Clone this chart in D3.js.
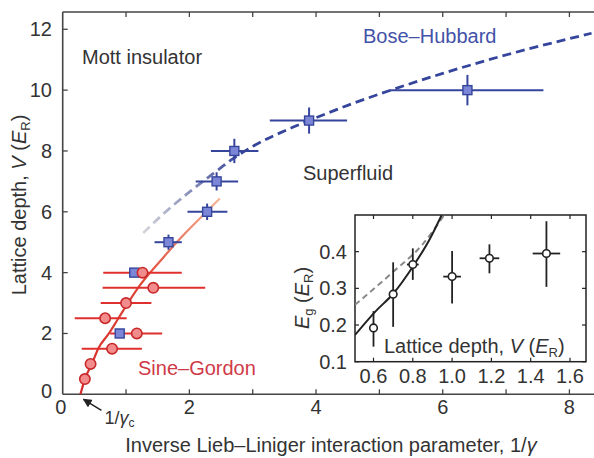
<!DOCTYPE html>
<html><head><meta charset="utf-8">
<script src="https://cdn.jsdelivr.net/npm/d3@7"></script>
<style>
html,body{margin:0;padding:0;background:#fff;}
svg{display:block;font-family:"Liberation Sans",Arial,sans-serif;}
</style></head>
<body><svg id="c" width="594" height="458"></svg>
<script>
// ---- main panel data ----
const xTicks = [0,2,4,6,8];
const yTicks = [0,2,4,6,8,10,12];
// Sine-Gordon (red circles)
const sgV   = [0.5, 1.0, 1.5, 2.0, 2.5, 3.0, 3.5, 4.0];
const sgX   = [0.35,0.44,0.78,1.17,0.67,1.00,1.43,1.26];
const sgXlo = [0.35,0.44,0.30,0.75,0.19,0.60,0.63,0.64];
const sgXhi = [0.35,0.44,1.25,1.57,1.01,1.40,2.25,1.88];
// Bose-Hubbard (blue squares)
const bhV    = [2, 4, 5, 6, 7, 8, 9, 10];
const bhX    = [0.90,1.13,1.67,2.28,2.43,2.71,3.89,6.39];
const bhXlo  = [0.90,1.13,1.45,1.97,2.10,2.34,3.27,5.17];
const bhXhi  = [0.90,1.13,1.88,2.60,2.77,3.09,4.49,7.59];
const bhVerr = [0,0,0.25,0.27,0.30,0.40,0.43,0.50];
// theory curves
const sgCurveX = [0.28,0.35,0.46,0.56,0.73,0.88,1.03,1.19,1.38,1.59,1.80,2.03,2.27,2.48];
const sgCurveV = [0.0, 0.5, 1.0, 1.5, 2.0, 2.5, 3.0, 3.5, 4.0, 4.5, 5.0, 5.5, 6.0, 6.44];
const bhCurveX = [1.27,1.60,2.00,2.38,2.69,3.00,3.59,3.89,4.50,5.00,6.00,6.90,8.35];
const bhCurveV = [5.30,5.95,6.65,7.26,7.75,8.15,8.74,9.00,9.50,9.87,10.55,11.10,11.87];
const gammaC = 0.28;

// ---- inset data ----
const inXTicks = [0.6,0.8,1.0,1.2,1.4,1.6];
const inYTicks = [0.1,0.2,0.3,0.4];
const gapV    = [0.60,0.70,0.80,1.00,1.19,1.48];
const gapE    = [0.192,0.284,0.365,0.332,0.382,0.395];
const gapElo  = [0.141,0.195,0.323,0.259,0.341,0.304];
const gapEhi  = [0.238,0.371,0.409,0.402,0.420,0.483];
const gapVerr = [0,0.02,0.03,0.045,0.05,0.07];
const sgGapV = [0.506,0.608,0.701,0.800,0.888,0.947];
const sgGapE = [0.173,0.236,0.286,0.359,0.436,0.500];
const dGapV  = [0.506,0.700,0.850,0.960];
const dGapE  = [0.255,0.345,0.420,0.500];

const svg = d3.select('#c');
const FS = 20;
const axisCol = '#444';
const red = '#d8302c', redFill = '#f28c8c';
const blue = '#36459c', blueFill = '#7b87d6';

// scales
const x = d3.scaleLinear().domain([0,8]).range([62.7,569.4]);
const y = d3.scaleLinear().domain([0,12]).range([394.3,29.3]);
const topY = 12, rightX = 600;

// gradients
const defs = svg.append('defs');
const g1 = defs.append('linearGradient').attr('id','sgGrad').attr('gradientUnits','userSpaceOnUse')
  .attr('x1',x(0.28)).attr('y1',y(0)).attr('x2',x(2.48)).attr('y2',y(6.44));
g1.append('stop').attr('offset','0').attr('stop-color','#d42a2a');
g1.append('stop').attr('offset','0.55').attr('stop-color','#e04a3a');
g1.append('stop').attr('offset','1').attr('stop-color','#f6b496');
const g2 = defs.append('linearGradient').attr('id','bhGrad').attr('gradientUnits','userSpaceOnUse')
  .attr('x1',x(1.27)).attr('y1',y(5.3)).attr('x2',x(2.8)).attr('y2',y(7.9));
g2.append('stop').attr('offset','0').attr('stop-color','#d8d8dc');
g2.append('stop').attr('offset','0.5').attr('stop-color','#8890b8');
g2.append('stop').attr('offset','1').attr('stop-color',blue);

// frame
svg.append('line').attr('x1',x(0)).attr('x2',x(0)).attr('y1',topY).attr('y2',y(0)).attr('stroke',axisCol).attr('stroke-width',1.6);
svg.append('line').attr('x1',x(0)).attr('x2',rightX).attr('y1',topY).attr('y2',topY).attr('stroke',axisCol).attr('stroke-width',1.6);
svg.append('line').attr('x1',x(0)).attr('x2',rightX).attr('y1',y(0)).attr('y2',y(0)).attr('stroke',axisCol).attr('stroke-width',1.6);

// ticks
const minorX = d3.range(1,9);
svg.append('g').selectAll('line.tb').data(minorX).join('line')
  .attr('x1',d=>x(d)).attr('x2',d=>x(d)).attr('y1',y(0)).attr('y2',y(0)-5).attr('stroke',axisCol).attr('stroke-width',1.3);
svg.append('g').selectAll('line.tt').data(minorX).join('line')
  .attr('x1',d=>x(d)).attr('x2',d=>x(d)).attr('y1',topY).attr('y2',topY+5).attr('stroke',axisCol).attr('stroke-width',1.3);
svg.append('g').selectAll('line.tl').data(yTicks.filter(d=>d>0)).join('line')
  .attr('x1',x(0)).attr('x2',x(0)+5).attr('y1',d=>y(d)).attr('y2',d=>y(d)).attr('stroke',axisCol).attr('stroke-width',1.3);

// tick labels
svg.append('g').selectAll('text').data(xTicks).join('text')
  .attr('x',d=>x(d)-(d===0?2:0)).attr('y',414).attr('text-anchor','middle')
  .attr('font-size',FS).attr('fill','#333').text(d=>d);
svg.append('g').selectAll('text').data(yTicks).join('text')
  .attr('x',52).attr('y',d=>y(d)-(d===0?3:0)).attr('dy','0.35em').attr('text-anchor','end')
  .attr('font-size',FS).attr('fill','#333').text(d=>d);

// axis titles
svg.append('text').attr('x',331).attr('y',452).attr('text-anchor','middle').attr('font-size',FS).attr('fill','#333')
  .html('Inverse Lieb–Liniger interaction parameter, 1/<tspan font-style="italic">γ</tspan>');
svg.append('text').attr('transform','translate(26,205) rotate(-90)').attr('text-anchor','middle').attr('font-size',FS).attr('fill','#333')
  .html('Lattice depth, <tspan font-style="italic">V</tspan> (<tspan font-style="italic">E</tspan><tspan font-size="13" dy="4">R</tspan><tspan dy="-4">)</tspan>');

// curves
const line = d3.line().curve(d3.curveMonotoneX);
const sgPts = sgCurveX.map((d,i)=>[x(d),y(sgCurveV[i])]);
svg.append('path').attr('d',line(sgPts)).attr('fill','none').attr('stroke','url(#sgGrad)').attr('stroke-width',2.2);
const bhPts = bhCurveX.map((d,i)=>[x(d),y(bhCurveV[i])]);
svg.append('path').attr('d',line(bhPts)).attr('fill','none').attr('stroke','url(#bhGrad)').attr('stroke-width',2.8).attr('stroke-dasharray','9,5');

// red error bars
sgV.forEach((v,i)=>{
  if (sgXhi[i]>sgXlo[i]) svg.append('line').attr('x1',x(sgXlo[i])).attr('x2',x(sgXhi[i])).attr('y1',y(v)).attr('y2',y(v)).attr('stroke','#e0302e').attr('stroke-width',2);
});
// blue error bars
bhV.forEach((v,i)=>{
  if (bhXhi[i]>bhXlo[i]) svg.append('line').attr('x1',x(bhXlo[i])).attr('x2',x(bhXhi[i])).attr('y1',y(v)).attr('y2',y(v)).attr('stroke',blue).attr('stroke-width',2);
  if (bhVerr[i]>0) svg.append('line').attr('x1',x(bhX[i])).attr('x2',x(bhX[i])).attr('y1',y(v-bhVerr[i])).attr('y2',y(v+bhVerr[i])).attr('stroke',blue).attr('stroke-width',2);
});
// blue squares
svg.append('g').selectAll('rect').data(bhV).join('rect')
  .attr('x',(d,i)=>x(bhX[i])-4.5).attr('y',d=>y(d)-4.5).attr('width',9).attr('height',9)
  .attr('fill',blueFill).attr('stroke',blue).attr('stroke-width',1.4);
// red circles
svg.append('g').selectAll('circle').data(sgV).join('circle')
  .attr('cx',(d,i)=>x(sgX[i])).attr('cy',d=>y(d)).attr('r',5.2)
  .attr('fill',redFill).attr('stroke','#c8282a').attr('stroke-width',1.6);

// region labels
svg.append('text').attr('x',82).attr('y',64).attr('font-size',FS).attr('fill','#333').text('Mott insulator');
svg.append('text').attr('x',363).attr('y',43).attr('font-size',FS).attr('fill','#4352a8').text('Bose–Hubbard');
svg.append('text').attr('x',303).attr('y',180).attr('font-size',FS).attr('fill','#333').text('Superfluid');
svg.append('text').attr('x',138).attr('y',375).attr('font-size',FS).attr('fill','#d03a48').text('Sine–Gordon');

// 1/gamma_c annotation
defs.append('marker').attr('id','arr').attr('viewBox','0 0 10 10').attr('refX',9).attr('refY',5)
  .attr('markerWidth',6).attr('markerHeight',6).attr('orient','auto')
  .append('path').attr('d','M0,0L10,5L0,10z').attr('fill','#222');
svg.append('line').attr('x1',x(gammaC)+21).attr('y1',y(0)+16).attr('x2',x(gammaC)+3).attr('y2',y(0)+5)
  .attr('stroke','#222').attr('stroke-width',1.5).attr('marker-end','url(#arr)');
svg.append('text').attr('x',x(gammaC)+24).attr('y',424).attr('font-size',18).attr('fill','#333')
  .html('1/<tspan font-style="italic">γ</tspan><tspan font-size="12" dy="3">c</tspan>');

// ---- inset ----
const xi = d3.scaleLinear().domain([0.6,1.6]).range([373.5,570]);
const yi = d3.scaleLinear().domain([0.1,0.5]).range([361.7,215]);
const iL = 355, iR = 586;
const ig = svg.append('g');
ig.append('rect').attr('x',iL).attr('y',yi(0.5)).attr('width',iR-iL).attr('height',yi(0.1)-yi(0.5))
  .attr('fill','#fff').attr('stroke','#222').attr('stroke-width',1.5);
defs.append('clipPath').attr('id','ic').append('rect').attr('x',iL).attr('y',yi(0.5)).attr('width',iR-iL).attr('height',yi(0.1)-yi(0.5));
// inset ticks
ig.selectAll('line.bx').data(inXTicks).join('line').attr('x1',d=>xi(d)).attr('x2',d=>xi(d)).attr('y1',yi(0.1)).attr('y2',yi(0.1)-4).attr('stroke','#222').attr('stroke-width',1.2);
ig.selectAll('line.tx').data(inXTicks).join('line').attr('x1',d=>xi(d)).attr('x2',d=>xi(d)).attr('y1',yi(0.5)).attr('y2',yi(0.5)+4).attr('stroke','#222').attr('stroke-width',1.2);
ig.selectAll('line.ly').data(inYTicks).join('line').attr('x1',iL).attr('x2',iL+4).attr('y1',d=>yi(d)).attr('y2',d=>yi(d)).attr('stroke','#222').attr('stroke-width',1.2);
ig.selectAll('line.ry').data(inYTicks).join('line').attr('x1',iR).attr('x2',iR-4).attr('y1',d=>yi(d)).attr('y2',d=>yi(d)).attr('stroke','#222').attr('stroke-width',1.2);
ig.selectAll('text.xl').data(inXTicks).join('text').attr('x',d=>xi(d)).attr('y',383).attr('text-anchor','middle')
  .attr('font-size',FS).attr('fill','#333').text(d=>d.toFixed(1));
ig.selectAll('text.yl').data(inYTicks).join('text').attr('x',347).attr('y',d=>yi(d)).attr('dy','0.35em').attr('text-anchor','end')
  .attr('font-size',FS).attr('fill','#333').text(d=>d.toFixed(1));
ig.append('text').attr('transform','translate(309,298) rotate(-90)').attr('text-anchor','middle').attr('font-size',FS).attr('fill','#333')
  .html('<tspan font-style="italic">E</tspan><tspan font-size="13" dy="4">g</tspan><tspan dy="-4"> (</tspan><tspan font-style="italic">E</tspan><tspan font-size="13" dy="4">R</tspan><tspan dy="-4">)</tspan>');
// inset curves
const ic = ig.append('g').attr('clip-path','url(#ic)');
ic.append('path').attr('d',d3.line().curve(d3.curveMonotoneX)(dGapV.map((d,i)=>[xi(d),yi(dGapE[i])])))
  .attr('fill','none').attr('stroke','#8a8a8a').attr('stroke-width',2).attr('stroke-dasharray','6,4');
ic.append('path').attr('d',d3.line().curve(d3.curveMonotoneX)(sgGapV.map((d,i)=>[xi(d),yi(sgGapE[i])])))
  .attr('fill','none').attr('stroke','#222').attr('stroke-width',2);
// inset label
ig.append('text').attr('x',384).attr('y',353).attr('font-size',FS).attr('fill','#333')
  .html('Lattice depth, <tspan font-style="italic">V</tspan> (<tspan font-style="italic">E</tspan><tspan font-size="13" dy="4">R</tspan><tspan dy="-4">)</tspan>');
// inset points
gapV.forEach((v,i)=>{
  ig.append('line').attr('x1',xi(v)).attr('x2',xi(v)).attr('y1',yi(gapElo[i])).attr('y2',yi(gapEhi[i])).attr('stroke','#222').attr('stroke-width',1.8);
  if (gapVerr[i]>0) ig.append('line').attr('x1',xi(v-gapVerr[i])).attr('x2',xi(v+gapVerr[i])).attr('y1',yi(gapE[i])).attr('y2',yi(gapE[i])).attr('stroke','#222').attr('stroke-width',1.8);
});
ig.selectAll('circle').data(gapV).join('circle').attr('cx',d=>xi(d)).attr('cy',(d,i)=>yi(gapE[i])).attr('r',3.8)
  .attr('fill','#fff').attr('stroke','#222').attr('stroke-width',1.6);
</script></body></html>
